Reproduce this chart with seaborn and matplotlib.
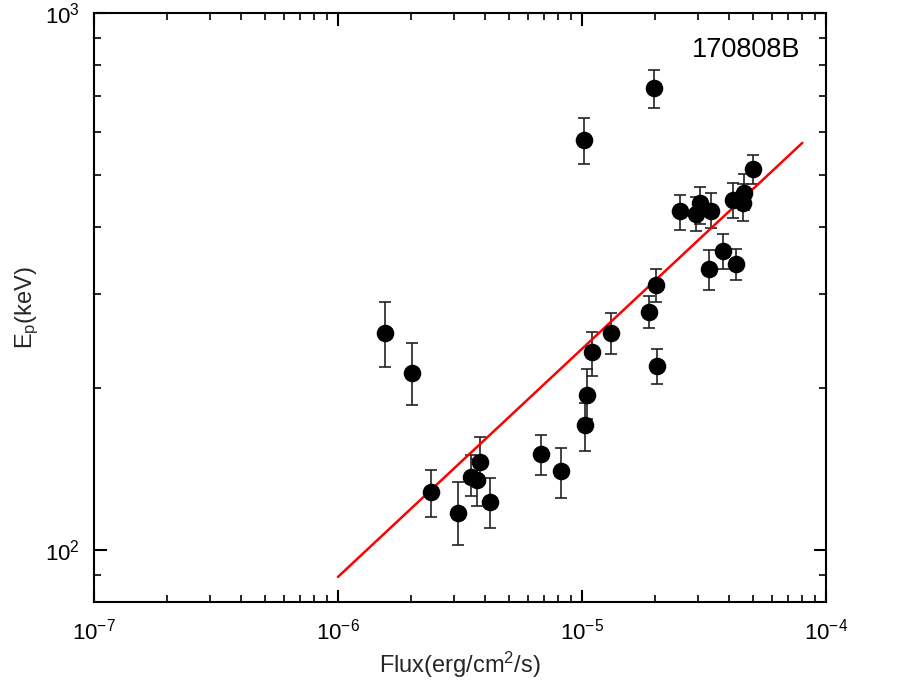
import numpy as np
import pandas as pd
import matplotlib
matplotlib.use("Agg")
import matplotlib.pyplot as plt
import matplotlib.ticker as mticker
import seaborn as sns

# ---- data ----
flux = [1.56e-6, 2.01e-6, 2.40e-6, 3.10e-6, 3.51e-6, 3.71e-6, 3.82e-6, 4.20e-6,
        6.79e-6, 8.20e-6, 1.03e-5, 1.05e-5, 1.10e-5, 1.31e-5, 1.02e-5, 1.97e-5,
        1.88e-5, 2.01e-5, 2.03e-5, 2.52e-5, 2.93e-5, 3.05e-5, 3.38e-5, 3.31e-5,
        3.78e-5, 4.27e-5, 4.16e-5, 4.57e-5, 4.61e-5, 5.02e-5]
ep = [254, 214, 128, 117, 137, 135, 146, 123,
      151, 140, 171, 194, 234, 254, 581, 726,
      278, 312, 220, 427, 423, 442, 428, 334,
      361, 341, 449, 443, 462, 513]
ep_hi = [290, 243, 141, 134, 150, 148, 162, 136,
         164, 155, 188, 217, 255, 276, 638, 783,
         297, 334, 237, 459, 455, 475, 463, 362,
         388, 364, 483, 481, 502, 545]
ep_lo = [219, 186, 115, 102, 126, 121, 133, 110,
         138, 125, 153, 175, 211, 232, 524, 664,
         259, 289, 204, 395, 393, 405, 398, 305,
         334, 318, 416, 409, 429, 481]
fit_x = [1.0e-6, 8.0e-5]
fit_y = [89.1, 573.0]
grb_name = "170808B"
x_ticks = [1e-7, 1e-6, 1e-5, 1e-4]
y_ticks = [1e2, 1e3]

df = pd.DataFrame({"flux": flux, "ep": ep, "hi": ep_hi, "lo": ep_lo})
fit_df = pd.DataFrame({"x": fit_x, "y": fit_y})

sns.set_theme(style="ticks")
plt.rcParams["font.family"] = ["Liberation Sans", "DejaVu Sans"]
plt.rcParams["mathtext.default"] = "regular"
plt.rcParams["axes.linewidth"] = 1.5

fig = plt.figure(figsize=(9.17, 6.95), dpi=100)
ax = fig.add_axes([94 / 917, 1 - 602 / 695, (826 - 94) / 917, (602 - 13) / 695])

# error bars
yerr = np.array([df["ep"] - df["lo"], df["hi"] - df["ep"]])
ax.errorbar(df["flux"], df["ep"], yerr=yerr, fmt="none", ecolor="#222222",
            elinewidth=1.2, capsize=4.5, capthick=1.2, zorder=2)

# fit line
sns.lineplot(data=fit_df, x="x", y="y", color="red", linewidth=1.8, ax=ax,
             zorder=3, legend=False)

# points
sns.scatterplot(data=df, x="flux", y="ep", color="black", s=160,
                edgecolor="black", linewidth=0, ax=ax, zorder=4, legend=False)

ax.set_xscale("log")
ax.set_yscale("log")
ax.set_xlim(1e-7, 1e-4)
ax.set_ylim(80, 1000)
ax.set_xticks(x_ticks)
ax.set_yticks(y_ticks)
ax.xaxis.set_minor_locator(mticker.LogLocator(base=10, subs=np.arange(2, 10), numticks=20))
ax.yaxis.set_minor_locator(mticker.LogLocator(base=10, subs=np.arange(2, 10), numticks=20))
ax.xaxis.set_minor_formatter(mticker.NullFormatter())
ax.yaxis.set_minor_formatter(mticker.NullFormatter())

ax.tick_params(which="both", direction="in", top=True, right=True,
               colors="black", labelsize=16)
ax.tick_params(which="major", length=9, width=1.5)
ax.tick_params(axis="x", which="major", pad=12)
ax.tick_params(axis="y", which="major", pad=10)
ax.tick_params(which="minor", length=5, width=1.2)

for s in ax.spines.values():
    s.set_color("black")
    s.set_linewidth(1.5)

ax.set_xlabel("Flux(erg/cm$^2$/s)", fontsize=17, labelpad=4)
ax.set_ylabel("E$_p$(keV)", fontsize=17, labelpad=3)

ax.text(0.965, 0.937, grb_name, transform=ax.transAxes, fontsize=19.5,
        ha="right", va="center", color="black")

fig.savefig("out.png", dpi=100)
